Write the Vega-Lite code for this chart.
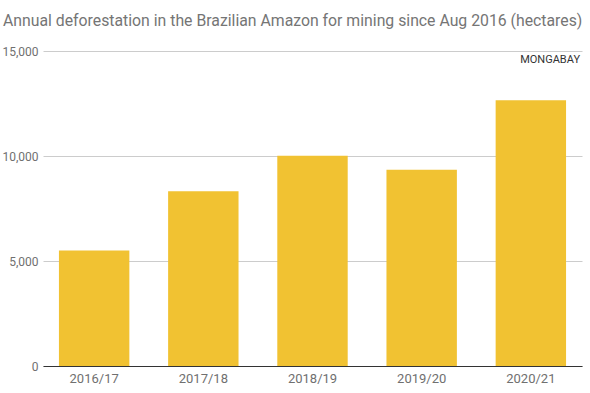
{
  "$schema": "https://vega.github.io/schema/vega-lite/v6.json",
  "autosize": "none",
  "width": 539,
  "height": 315,
  "padding": {"left": 43, "top": 51, "right": 8, "bottom": 27},
  "background": "#ffffff",
  "title": {
    "text": "Annual deforestation in the Brazilian Amazon for mining since Aug 2016 (hectares)",
    "anchor": "start",
    "frame": "group",
    "dx": -40,
    "offset": 15,
    "font": "Roboto",
    "fontSize": 15.8,
    "fontWeight": "normal",
    "color": "#757575"
  },
  "config": {
    "view": {"stroke": null},
    "font": "Roboto"
  },
  "layer": [
    {
      "data": {
        "values": [
          {"year": "2016/17", "hectares": 5504},
          {"year": "2017/18", "hectares": 8325},
          {"year": "2018/19", "hectares": 10010},
          {"year": "2019/20", "hectares": 9340},
          {"year": "2020/21", "hectares": 12655}
        ]
      },
      "mark": {"type": "bar", "color": "#f1c232"},
      "encoding": {
        "x": {
          "field": "year",
          "type": "nominal",
          "sort": null,
          "scale": {"paddingInner": 0.355, "paddingOuter": 0.146},
          "axis": {
            "title": null,
            "labelAngle": 0,
            "labelFont": "Roboto",
            "labelFontSize": 13,
            "labelColor": "#707070",
            "labelPadding": 6,
            "ticks": false,
            "domainColor": "#333333",
            "domainWidth": 1
          }
        },
        "y": {
          "field": "hectares",
          "type": "quantitative",
          "scale": {"domain": [0, 15000], "nice": false},
          "axis": {
            "title": null,
            "values": [0, 5000, 10000, 15000],
            "format": ",.0f",
            "labelFont": "Roboto",
            "labelFontSize": 12,
            "labelColor": "#707070",
            "labelPadding": 5,
            "ticks": false,
            "domain": false,
            "gridColor": "#cccccc",
            "gridWidth": 1
          }
        }
      }
    },
    {
      "data": {"values": [{"label": "MONGABAY", "pos": 14430}]},
      "mark": {
        "type": "text",
        "align": "right",
        "baseline": "alphabetic",
        "font": "Roboto",
        "fontSize": 11,
        "color": "#333333",
        "dx": -2
      },
      "encoding": {
        "x": {"value": "width"},
        "y": {"field": "pos", "type": "quantitative"},
        "text": {"field": "label"}
      }
    }
  ]
}
